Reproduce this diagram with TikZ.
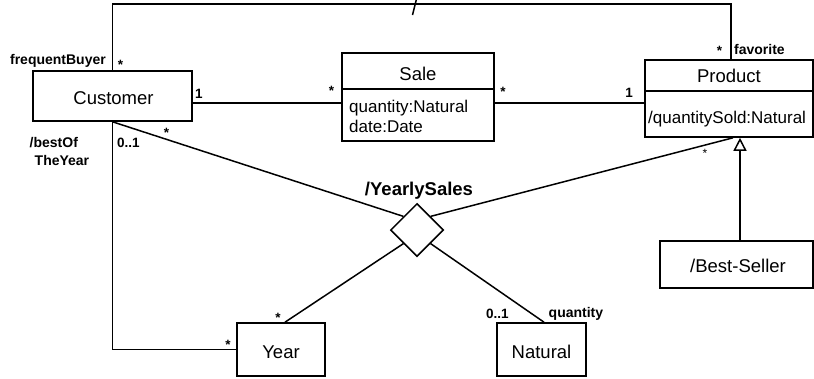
\documentclass[tikz,border=0pt]{standalone}
\usepackage{fontspec}
\setmainfont{Liberation Sans}
\usetikzlibrary{shapes.geometric,arrows.meta}
\begin{document}
\begin{tikzpicture}[x=1pt,y=-1pt,
  box/.style={draw, line width=1.6pt, inner sep=0pt, fill=white},
  conn/.style={line width=1.5pt},
  clsname/.style={font=\fontsize{18.5}{20}\selectfont, inner sep=0pt},
  attr/.style={font=\fontsize{17}{20}\selectfont, inner sep=0pt, align=left},
  lbl/.style={font=\fontsize{14}{16}\selectfont\bfseries, inner sep=0pt},
  mult/.style={font=\fontsize{13.5}{14}\selectfont\bfseries, inner sep=0pt},
  gen/.style={conn, -{Triangle[open, length=13pt, width=13pt]}}]
\useasboundingbox (0,0) rectangle (814,378);

% classes
\node[box, minimum width=159pt, minimum height=50pt] (cust) at (112.5,96) {};
\node[box, minimum width=152pt, minimum height=88pt] (sale) at (418,97) {};
\node[box, minimum width=168pt, minimum height=77pt] (prod) at (729,98.5) {};
\node[box, minimum width=153pt, minimum height=47pt] (best) at (736.5,264.5) {};
\node[box, minimum width=88pt, minimum height=53pt] (year) at (281,349.5) {};
\node[box, minimum width=89pt, minimum height=53pt] (nat) at (541.5,349.5) {};
\node[draw, diamond, line width=1.5pt, inner sep=0pt, minimum width=53pt,
      minimum height=53pt, fill=white] (dia) at (417,230) {};

% compartment dividers
\draw[line width=1.6pt] (sale.west |- 0,89) -- (sale.east |- 0,89);
\draw[line width=1.6pt] (prod.west |- 0,91) -- (prod.east |- 0,91);

% class texts
\node[clsname, anchor=base] at (113.5,104) {Customer};
\node[clsname, anchor=base] at (418,80) {Sale};
\node[attr, anchor=base west] at (349,112) {quantity:Natural};
\node[attr, anchor=base west] at (349,132) {date:Date};
\node[clsname, anchor=base] at (729,82) {Product};
\node[attr, anchor=base west] at (648,123) {/quantitySold:Natural};
\node[clsname, anchor=base] at (738,272) {/Best-Seller};
\node[clsname, anchor=base] at (281,358) {Year};
\node[clsname, anchor=base] at (541.5,358) {Natural};

% derived association frequentBuyer / favorite
\coordinate (fav) at ([xshift=2pt]prod.north);
\draw[conn] (cust.north) -- ++(0,-66) -| (fav);
\draw[conn] (412.5,15) -- (416.5,-1);

% Customer - Sale - Product
\coordinate (cs) at ([yshift=-7pt]cust.east);
\draw[conn] (cs) -- (cs -| sale.west);
\draw[conn] (cs -| sale.east) -- (cs -| prod.west);

% bestOfTheYear
\draw[conn] (cust.south) |- (year.west);

% ternary association YearlySales
\draw[conn] (cust.south) -- (dia.north west);
\draw[conn] (dia.north east) -- ([xshift=4pt]prod.south);
\draw[conn] (dia.south west) -- ([xshift=4pt]year.north);
\draw[conn] (dia.south east) -- ([xshift=2.5pt]nat.north);

% generalization
\coordinate (g) at ([xshift=3.5pt]best.north);
\draw[gen] (g) -- (g |- prod.south);

% role names and multiplicities
\node[lbl, anchor=base east] at (106,64) {frequentBuyer};
\node[mult, anchor=base] at (120.5,69) {*};
\node[lbl, anchor=base west] at (734,54) {favorite};
\node[mult, anchor=base] at (719.5,55) {*};
\node[mult, anchor=base] at (199,98) {1};
\node[mult, anchor=base] at (331.5,95) {*};
\node[mult, anchor=base] at (503,96) {*};
\node[mult, anchor=base] at (629,97) {1};
\node[lbl, anchor=base west] at (29.5,147) {/bestOf};
\node[lbl, anchor=base west] at (34.5,165) {TheYear};
\node[mult, anchor=base west] at (117,147.5) {0..1};
\node[mult, anchor=base] at (166.5,137) {*};
\node[font=\fontsize{18.5}{20}\selectfont\bfseries, inner sep=0pt, anchor=base] at (419,195) {/YearlySales};
\node[font=\fontsize{12}{14}\selectfont, inner sep=0pt, anchor=base] at (705,157) {*};
\node[mult, anchor=base] at (278,322) {*};
\node[mult, anchor=base] at (228,349.5) {*};
\node[mult, anchor=base west] at (486,318.5) {0..1};
\node[lbl, anchor=base west] at (548.5,317) {quantity};
\end{tikzpicture}
\end{document}
